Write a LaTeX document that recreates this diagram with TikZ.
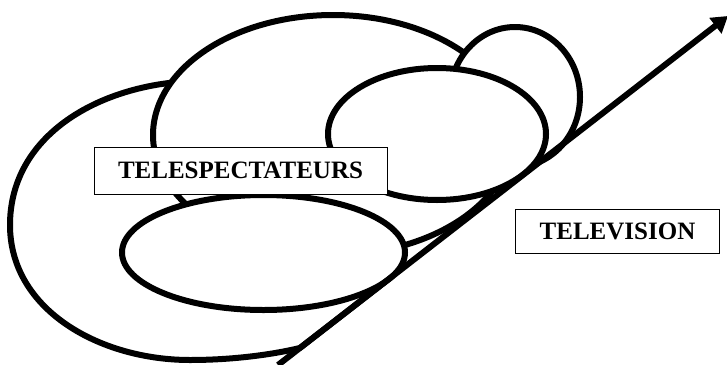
\documentclass[tikz,border=0pt]{standalone}
\usepackage{fontspec}
\setmainfont{Liberation Serif}
\usetikzlibrary{arrows.meta,calc}
\begin{document}
\begin{tikzpicture}[x=1pt,y=-1pt,
  blob/.style={draw=black,line width=6pt,fill=white,line join=round},
  arrowline/.style={draw=black,line width=6pt,-{Triangle[length=16pt,width=19pt]}},
  labelbox/.style={draw=black,line width=1pt,fill=white,inner sep=0pt,font=\fontsize{25}{30}\selectfont\bfseries}]
\useasboundingbox (0,0) rectangle (727,364);
\coordinate (arrowstart) at (278,365);
\coordinate (arrowtip) at (728,16);
\coordinate (e1a) at ($(arrowstart)!0.0489!(arrowtip)$);
\coordinate (e1b) at ($(arrowstart)!0.2378!(arrowtip)$);
% large outer ellipse
\path[blob] (178,82) .. controls (90,90) and (10,140) .. (10,225)
  .. controls (10,310) and (100,360) .. (190,360)
  .. controls (235,360) and (275,354) .. (e1a)
  -- (e1b)
  .. controls (400,255) and (370,212) .. (330,210)
  .. controls (290,208) and (260,150) .. (240,120)
  .. controls (225,95) and (205,84) .. cycle;
% top ellipse
\path[blob] (333,135) ellipse [x radius=180pt, y radius=120pt];
% small top-right ellipse
\path[blob] (515,97) ellipse [x radius=65pt, y radius=70pt];
% middle-right ellipse
\path[blob] (437,134) ellipse [x radius=109pt, y radius=66pt];
% lower ellipse
\path[blob] (263.5,252.5) ellipse [x radius=141.5pt, y radius=57.5pt];
\draw[arrowline] (arrowstart) -- (arrowtip);
\node[labelbox, minimum width=293pt, minimum height=47pt] (viewers) at (240.5,170.5) {TELESPECTATEURS};
\node[labelbox, minimum width=203.5pt, minimum height=44pt] (tv) at (617.5,231) {TELEVISION};
\end{tikzpicture}
\end{document}
